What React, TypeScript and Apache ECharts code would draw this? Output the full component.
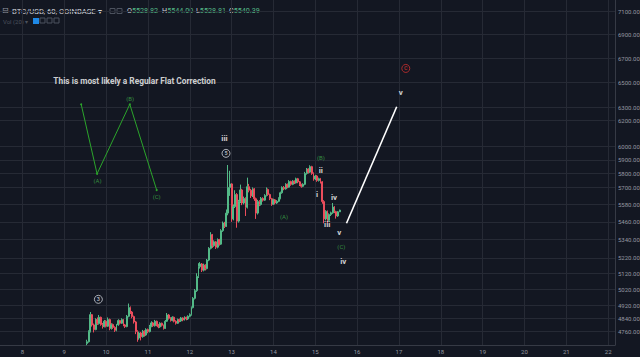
import React, { useEffect, useRef } from 'react';
import * as echarts from 'echarts';

// hourly candles starting Oct 9, 13:00 (x in days of month)
const startDay = 9 + 13 / 24;
// [open, close, low, high]
const candles: number[][] = [
  [4690, 4700, 4680, 4712], [4700, 4760, 4695, 4768], [4760, 4862, 4755, 4878], [4862, 4800, 4790, 4866],
  [4800, 4772, 4755, 4808], [4772, 4832, 4768, 4840], [4832, 4808, 4800, 4845], [4808, 4846, 4802, 4860],
  [4846, 4802, 4795, 4850], [4802, 4790, 4778, 4812], [4790, 4822, 4785, 4830], [4822, 4792, 4785, 4828],
  [4792, 4832, 4788, 4845], [4832, 4780, 4768, 4838], [4780, 4802, 4772, 4810], [4802, 4785, 4776, 4808],
  [4785, 4768, 4758, 4792], [4768, 4800, 4762, 4806], [4800, 4826, 4795, 4834], [4826, 4810, 4802, 4830],
  [4810, 4832, 4806, 4840], [4832, 4800, 4792, 4836], [4800, 4790, 4782, 4806], [4790, 4852, 4786, 4860],
  [4852, 4905, 4846, 4930], [4905, 4878, 4866, 4912], [4878, 4850, 4840, 4884], [4850, 4818, 4808, 4856],
  [4818, 4760, 4745, 4824], [4760, 4722, 4700, 4768], [4722, 4752, 4712, 4760], [4752, 4730, 4708, 4758],
  [4730, 4762, 4724, 4770], [4762, 4740, 4730, 4768], [4740, 4772, 4735, 4780], [4772, 4760, 4750, 4778],
  [4760, 4792, 4755, 4800], [4792, 4812, 4786, 4822], [4812, 4795, 4788, 4818], [4795, 4822, 4790, 4830],
  [4822, 4800, 4792, 4826], [4800, 4788, 4780, 4806], [4788, 4810, 4782, 4816], [4810, 4798, 4790, 4814],
  [4798, 4780, 4772, 4802], [4780, 4822, 4776, 4830], [4822, 4860, 4818, 4872], [4860, 4840, 4832, 4866],
  [4840, 4828, 4820, 4846], [4828, 4846, 4822, 4852], [4846, 4822, 4815, 4850], [4822, 4810, 4802, 4828],
  [4810, 4832, 4806, 4838], [4832, 4824, 4816, 4838], [4824, 4842, 4818, 4848], [4842, 4830, 4822, 4846],
  [4830, 4846, 4826, 4852], [4846, 4836, 4828, 4850], [4836, 4852, 4830, 4858], [4852, 4862, 4846, 4870],
  [4862, 4905, 4856, 4912], [4905, 4962, 4900, 4970], [4962, 5010, 4955, 5020], [5010, 5100, 5002, 5120],
  [5100, 5162, 5090, 5185], [5162, 5180, 5150, 5192], [5180, 5140, 5128, 5186], [5140, 5172, 5132, 5182],
  [5172, 5150, 5138, 5178], [5150, 5205, 5145, 5212], [5205, 5282, 5198, 5290], [5282, 5372, 5275, 5390],
  [5372, 5300, 5285, 5378], [5300, 5325, 5292, 5335], [5325, 5290, 5278, 5330], [5290, 5340, 5282, 5348],
  [5340, 5310, 5300, 5345], [5310, 5400, 5305, 5410], [5400, 5452, 5392, 5462], [5452, 5430, 5418, 5460],
  [5430, 5520, 5425, 5545], [5520, 5700, 5505, 5862], [5700, 5725, 5640, 5820], [5725, 5480, 5460, 5730],
  [5480, 5565, 5470, 5580], [5565, 5650, 5555, 5680], [5650, 5465, 5420, 5660], [5465, 5600, 5455, 5612],
  [5600, 5682, 5590, 5720], [5682, 5590, 5575, 5690], [5590, 5622, 5580, 5635], [5622, 5560, 5500, 5630],
  [5560, 5705, 5552, 5770], [5705, 5680, 5665, 5725], [5680, 5640, 5625, 5690], [5640, 5690, 5632, 5700],
  [5690, 5620, 5605, 5695], [5620, 5520, 5480, 5628], [5520, 5600, 5510, 5612], [5600, 5580, 5568, 5610],
  [5580, 5622, 5572, 5632], [5622, 5610, 5600, 5630], [5610, 5642, 5605, 5652], [5642, 5685, 5636, 5700],
  [5685, 5650, 5640, 5692], [5650, 5620, 5610, 5656], [5620, 5582, 5570, 5626], [5582, 5612, 5576, 5620],
  [5612, 5590, 5580, 5618], [5590, 5602, 5584, 5610], [5602, 5622, 5596, 5630], [5622, 5662, 5616, 5670],
  [5662, 5700, 5655, 5708], [5700, 5690, 5680, 5710], [5690, 5722, 5684, 5730], [5722, 5702, 5694, 5728],
  [5702, 5742, 5698, 5752], [5742, 5722, 5712, 5748], [5722, 5745, 5716, 5752], [5745, 5732, 5724, 5750],
  [5732, 5762, 5728, 5770], [5762, 5740, 5730, 5768], [5740, 5720, 5710, 5746], [5720, 5708, 5698, 5726],
  [5708, 5722, 5702, 5730], [5722, 5800, 5716, 5812], [5800, 5832, 5792, 5840], [5832, 5810, 5800, 5838],
  [5810, 5850, 5804, 5860], [5850, 5800, 5790, 5856], [5800, 5760, 5748, 5808], [5760, 5782, 5752, 5790],
  [5782, 5750, 5740, 5788], [5750, 5762, 5742, 5770], [5762, 5740, 5728, 5768], [5740, 5600, 5585, 5745],
  [5600, 5480, 5450, 5610], [5480, 5532, 5470, 5540], [5532, 5470, 5452, 5538], [5470, 5510, 5462, 5518],
  [5510, 5522, 5500, 5530], [5522, 5562, 5515, 5590], [5562, 5530, 5520, 5568], [5530, 5500, 5482, 5536],
  [5500, 5528.82, 5494, 5534], [5528.82, 5540.39, 5528.81, 5544],
];

const dayTicks = [8, 9, 10, 11, 12, 13, 14, 15, 16, 17, 18, 19, 20, 21, 22];
const priceTicks = [7100, 6900, 6700, 6500, 6300, 6200, 6000, 5900, 5800, 5700, 5580, 5460, 5340, 5220, 5120, 5020, 4920, 4840, 4760];
const lastPrice = 5540.39;
const countdown = '27:07';

// "Regular Flat" sketch (day, price)
const flatX = [9.405, 9.785, 10.567, 11.21];
const flatY = [6324, 5798, 6324, 5681];
// projected wave v
const projX = [15.746, 16.946];
const projY = [5450, 6305];

const noteText = 'This is most likely a Regular Flat Correction';
const noteX = 10.679;
const noteY = 6511;

const waveText = ['(A)', '(B)', '(C)', '(A)', '(B)', '(C)'];
const waveX = [9.797, 10.576, 11.21, 14.252, 15.134, 15.622];
const waveY = [5753, 6374, 5635, 5495, 5914, 5297];

const romanText = ['iii', 'i', 'ii', 'iii', 'iv', 'v', 'iv', 'v'];
const romanX = [12.83, 15.041, 15.132, 15.285, 15.447, 15.574, 15.67, 17.044];
const romanY = [6061, 5652, 5822, 5443, 5630, 5386, 5196, 6422];

const circledText = ['3', '5', 'C'];
const circledX = [9.816, 12.866, 17.163];
const circledY = [4956, 5948, 6614];
const circledColor = ['#d1d4dc', '#d1d4dc', '#d0302f'];

const header = { o: '5528.82', h: '5544.00', l: '5528.81', c: '5540.39' };

const BG = '#131722';
const GRID = '#262a35';
const UP = '#53b987';
const DOWN = '#eb4d5c';
const FONT = 'Roboto, "Noto Sans", sans-serif';

const noStroke = { textBorderWidth: 0, textBorderColor: BG, textShadowBlur: 0, textShadowColor: 'transparent' };

function textSeries(xs: number[], ys: number[], texts: string[], color: string, size: number, weight: string) {
  return {
    type: 'scatter', z: 8, silent: true,
    symbol: 'rect', symbolSize: 1,
    itemStyle: { color: 'rgba(0,0,0,0)' },
    emphasis: { disabled: true },
    label: { show: true, position: 'inside', color, fontSize: size, fontWeight: weight, fontFamily: FONT, ...noStroke, formatter: (p: any) => texts[p.dataIndex] },
    data: xs.map((x, i) => [x, ys[i]]),
  };
}

export default function App() {
  const ref = useRef<HTMLDivElement>(null);
  useEffect(() => {
    document.body.style.margin = '0';
    document.body.style.background = BG;
    const chart = echarts.init(ref.current!, null, { renderer: 'svg' });

    const candleData = candles.map((c, i) => [startDay + i / 24, c[0], c[1], c[2], c[3]]);

    const circleData = circledText.map((t, i) => ({
      value: [circledX[i], circledY[i]],
      itemStyle: { color: BG, borderColor: circledColor[i], borderWidth: 1 },
      label: { color: circledColor[i] },
    }));

    const hdrFont = '7.7px ' + FONT;
    const valFont = '7.2px ' + FONT;
    const ohlc = (label: string, v: string, left: number) => ({
      type: 'text', left, top: 7,
      style: { text: '{w|' + label + '}{g|' + v + '}', rich: { w: { fill: '#d1d4dc', font: valFont }, g: { fill: UP, font: valFont } } },
    });

    const option: any = {
      animation: false,
      backgroundColor: BG,
      textStyle: { fontFamily: FONT },
      grid: { left: 0, right: 25, top: 0, bottom: 12, containLabel: false },
      xAxis: {
        type: 'value', min: 7.465, max: 22.163,
        axisLine: { show: true, onZero: false, lineStyle: { color: '#363a45', width: 1 } },
        axisTick: { show: false }, axisLabel: { show: false }, splitLine: { show: false },
      },
      yAxis: {
        type: 'log', min: 4681, max: 7204.6, position: 'right',
        axisLine: { show: true, onZero: false, lineStyle: { color: '#363a45', width: 1 } },
        axisTick: { show: false }, axisLabel: { show: false }, splitLine: { show: false },
      },
      series: [
        {
          type: 'candlestick', z: 3, barWidth: 1.4,
          encode: { x: 0, y: [1, 2, 3, 4] },
          data: candleData,
          itemStyle: { color: UP, color0: DOWN, borderColor: UP, borderColor0: DOWN, borderWidth: 1 },
          markLine: {
            silent: true, z: 1, symbol: ['none', 'none'], animation: false,
            lineStyle: { color: GRID, width: 1, type: 'solid' },
            emphasis: { disabled: true },
            data: [
              ...priceTicks.map((p) => ({
                yAxis: p,
                label: { show: true, position: 'end', distance: 3, formatter: p.toFixed(2), color: '#9598a1', fontSize: 6, fontFamily: FONT },
              })),
              ...dayTicks.map((d) => ({
                xAxis: d,
                label: { show: true, position: 'start', distance: 3, formatter: String(d), color: '#9598a1', fontSize: 6, fontFamily: FONT },
              })),
            ],
          },
        },
        {
          type: 'line', z: 5, data: flatX.map((x, i) => [x, flatY[i]]),
          symbol: 'circle', symbolSize: 2, showSymbol: true,
          lineStyle: { color: '#2ba52b', width: 1 }, itemStyle: { color: '#2ba52b' },
        },
        {
          type: 'line', z: 5, data: projX.map((x, i) => [x, projY[i]]),
          symbol: 'none', lineStyle: { color: '#ffffff', width: 1.6 },
          markLine: {
            silent: true, z: 10, symbol: ['none', 'none'],
            lineStyle: { opacity: 0 },
            data: [{
              yAxis: lastPrice,
              label: {
                show: true, position: 'end', distance: 0, offset: [0, 3],
                formatter: '{a|' + lastPrice.toFixed(2) + '}\n{b|' + countdown + '}',
                rich: {
                  a: { backgroundColor: UP, color: '#ffffff', fontSize: 5.6, padding: [0, 2, 0, 3], align: 'right', fontFamily: FONT, lineHeight: 5.6 },
                  b: { backgroundColor: UP, color: '#ffffff', fontSize: 5.6, padding: [0, 2, 0, 3], align: 'right', fontFamily: FONT, lineHeight: 5.6 },
                },
              },
            }],
          },
        },
        textSeries([noteX], [noteY], [noteText], '#ffffff', 8.3, 'bold'),
        textSeries(waveX, waveY, waveText, '#3fae49', 6, 'normal'),
        textSeries(romanX, romanY, romanText, '#ffffff', 8, 'bold'),
        {
          type: 'scatter', z: 8, silent: true,
          symbol: 'circle', symbolSize: 8,
          emphasis: { disabled: true },
          label: { show: true, position: 'inside', fontSize: 5.5, fontWeight: 'bold', fontFamily: FONT, ...noStroke, formatter: (p: any) => circledText[p.dataIndex] },
          data: circleData,
        },
      ],
      graphic: [
        { type: 'text', left: 2, top: 6, style: { text: '⊟', fill: '#9598a1', font: '8px "DejaVu Sans"' } },
        { type: 'text', left: 12, top: 7, style: { text: 'BTC/USD, 60, COINBASE ▾', fill: '#d1d4dc', font: hdrFont } },
        { type: 'rect', shape: { x: 110, y: 8.5, width: 5, height: 5 }, style: { fill: 'none', stroke: '#4c525e' } },
        { type: 'rect', shape: { x: 117, y: 8.5, width: 5, height: 5 }, style: { fill: 'none', stroke: '#4c525e' } },
        ohlc('O', header.o, 127),
        ohlc('H', header.h, 162),
        ohlc('L', header.l, 196),
        ohlc('C', header.c, 229),
        { type: 'text', left: 3, top: 18, style: { text: 'Vol (20) ▾', fill: '#4c525e', font: '6px ' + FONT } },
        { type: 'rect', shape: { x: 33, y: 18, width: 6, height: 6 }, style: { fill: '#1e88e5' } },
        { type: 'rect', shape: { x: 40, y: 18, width: 5, height: 5 }, style: { fill: 'none', stroke: '#4c525e' } },
        { type: 'rect', shape: { x: 47, y: 18, width: 5, height: 5 }, style: { fill: 'none', stroke: '#4c525e' } },
        { type: 'rect', shape: { x: 54, y: 18, width: 5, height: 5 }, style: { fill: 'none', stroke: '#4c525e' } },
      ],
    };
    chart.setOption(option);
    return () => chart.dispose();
  }, []);
  return <div ref={ref} style={{ position: 'absolute', left: 0, top: 0, width: 640, height: 357 }} />;
}
